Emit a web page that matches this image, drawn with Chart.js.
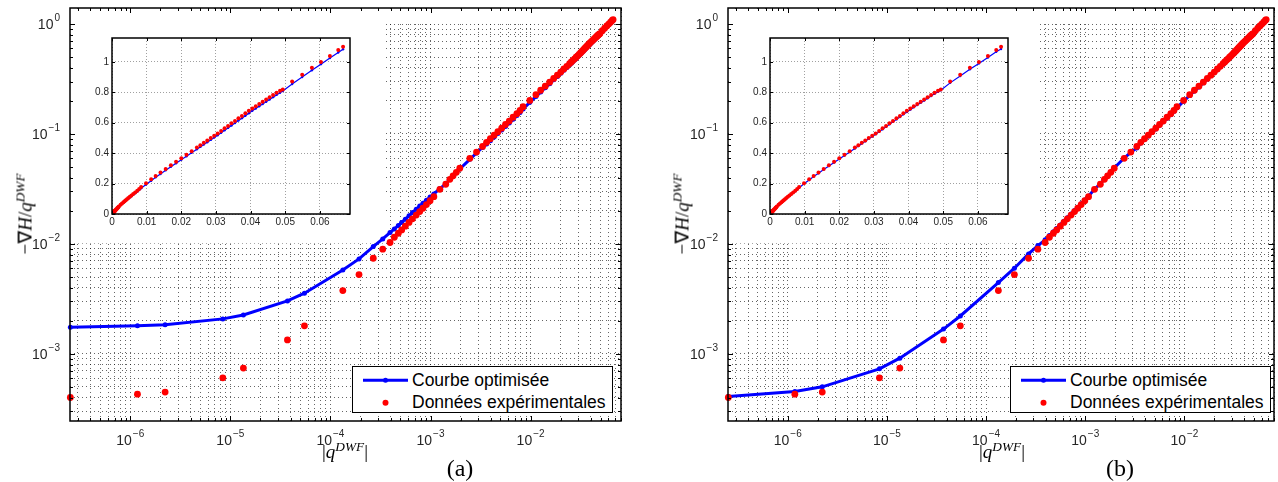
<!DOCTYPE html>
<html>
<head>
<meta charset="utf-8">
<script src="https://cdn.jsdelivr.net/npm/chart.js@4/dist/chart.umd.min.js"></script>
<style>
  html, body { margin: 0; padding: 0; background: #fff; }
  body { width: 1278px; height: 482px; position: relative; overflow: hidden; font-family: "Liberation Sans", Arial, sans-serif; }
  canvas { position: absolute; }
  .ylab, .xlab, .cap { position: absolute; white-space: nowrap; font-family: "Liberation Serif", "Times New Roman", serif; color: #000; }
  .ylab { font-size: 19px; transform: translate(-50%, -50%) rotate(-90deg); }
  .xlab { font-size: 19px; transform: translate(-50%, -50%); }
  .cap { font-size: 24px; transform: translate(-50%, -50%); }
  sup { font-size: 0.7em; vertical-align: 0.5em; line-height: 0; }
  .legend { position: absolute; width: 259px; height: 45px; border: 1px solid #000; background: #fff; }
  .legend svg { position: absolute; left: 0; top: 0; }
  .legend .lt { position: absolute; left: 59px; font-size: 17.5px; line-height: 20px; color: #000; }
</style>
</head>
<body>
<canvas id="mainA" width="640" height="445" style="left:0;top:0"></canvas>
<canvas id="mainB" width="638" height="445" style="left:640px;top:0"></canvas>
<canvas id="insetA" width="270" height="201" style="left:86px;top:29px"></canvas>
<canvas id="insetB" width="270" height="201" style="left:744px;top:29px"></canvas>

<div class="ylab" style="left:25px;top:214px">&minus;&nabla;<i>H</i>/<i>q</i><sup><i>DWF</i></sup></div>
<div class="ylab" style="left:682px;top:214px">&minus;&nabla;<i>H</i>/<i>q</i><sup><i>DWF</i></sup></div>
<div class="xlab" style="left:345px;top:452px">|<i>q</i><sup><i>DWF</i></sup>|</div>
<div class="xlab" style="left:1002px;top:452px">|<i>q</i><sup><i>DWF</i></sup>|</div>
<div class="cap" style="left:460px;top:468px">(a)</div>
<div class="cap" style="left:1120px;top:468px">(b)</div>

<div class="legend" style="left:352px;top:366px">
  <svg width="58" height="45"><line x1="10" y1="13.3" x2="55" y2="13.3" stroke="#0000ff" stroke-width="3"/><circle cx="32.5" cy="13.3" r="2.5" fill="#0000ff"/><circle cx="32.5" cy="35.7" r="3" fill="#ff0000"/></svg>
  <div class="lt" style="top:3px">Courbe optimisée</div>
  <div class="lt" style="top:25px">Données expérimentales</div>
</div>
<div class="legend" style="left:1010px;top:366px">
  <svg width="58" height="45"><line x1="10" y1="13.3" x2="55" y2="13.3" stroke="#0000ff" stroke-width="3"/><circle cx="32.5" cy="13.3" r="2.5" fill="#0000ff"/><circle cx="32.5" cy="35.7" r="3" fill="#ff0000"/></svg>
  <div class="lt" style="top:3px">Courbe optimisée</div>
  <div class="lt" style="top:25px">Données expérimentales</div>
</div>

<script>
// --- Data ---

// |q^DWF| of each measured point (shared by both panels and insets)
const expX = [
  2.52e-7, 1.18e-6, 2.23e-6, 8.41e-6, 1.35e-5, 3.72e-5, 5.50e-5, 1.33e-4, 1.93e-4, 2.68e-4,
  3.33e-4, 3.94e-4, 4.35e-4, 4.77e-4, 5.15e-4, 5.6e-4, 6.1e-4, 6.6e-4, 7.2e-4, 7.8e-4,
  8.4e-4, 9.1e-4, 9.9e-4, 1.08e-3, 1.24e-3, 1.42e-3, 1.56e-3, 1.68e-3, 1.81e-3, 1.96e-3,
  2.47e-3, 2.88e-3, 3.31e-3, 3.63e-3, 3.96e-3, 4.32e-3, 4.71e-3, 5.14e-3, 5.61e-3, 6.12e-3,
  6.68e-3, 7.29e-3, 7.84e-3, 8.41e-3, 9.82e-3, 0.0113, 0.0126, 0.0140, 0.0155, 0.0170,
  0.0185, 0.0200, 0.0215, 0.0230, 0.0245, 0.0255, 0.0265, 0.0275, 0.0285, 0.0295,
  0.0305, 0.0315, 0.0325, 0.0335, 0.0345, 0.0355, 0.0365, 0.0375, 0.0385, 0.0395,
  0.0405, 0.0415, 0.0425, 0.0435, 0.0445, 0.0455, 0.0465, 0.0475, 0.0485, 0.0493,
  0.0520, 0.0549, 0.0577, 0.0603, 0.0629, 0.0653, 0.0667
];

// Données expérimentales (-grad H / q^DWF)
const expY = [
  4.01e-4, 4.30e-4, 4.49e-4, 6.05e-4, 7.42e-4, 1.34e-3, 1.80e-3, 3.76e-3, 5.26e-3, 7.41e-3,
  8.95e-3, 1.03e-2, 1.15e-2, 1.25e-2, 1.34e-2, 1.45e-2, 1.57e-2, 1.69e-2, 1.83e-2, 1.97e-2,
  2.11e-2, 2.28e-2, 2.47e-2, 2.69e-2, 3.14e-2, 3.49e-2, 3.87e-2, 4.16e-2, 4.48e-2, 4.88e-2,
  6.01e-2, 6.85e-2, 7.70e-2, 8.40e-2, 9.05e-2, 9.75e-2, 0.105, 0.113, 0.122, 0.131,
  0.142, 0.153, 0.164, 0.177, 0.202, 0.228, 0.250, 0.272, 0.296, 0.320,
  0.343, 0.366, 0.390, 0.413, 0.437, 0.452, 0.468, 0.483, 0.499, 0.514,
  0.530, 0.546, 0.563, 0.579, 0.596, 0.612, 0.629, 0.645, 0.662, 0.678,
  0.693, 0.708, 0.723, 0.738, 0.753, 0.768, 0.783, 0.797, 0.811, 0.819,
  0.871, 0.916, 0.961, 1.000, 1.039, 1.078, 1.099
];

// Courbe optimisée, panel (a)
const fitYA = [
  1.75e-3, 1.80e-3, 1.84e-3, 2.08e-3, 2.26e-3, 3.03e-3, 3.56e-3, 5.80e-3, 7.31e-3, 9.45e-3,
  1.11e-2, 1.27e-2, 1.37e-2, 1.47e-2, 1.57e-2, 1.68e-2, 1.80e-2, 1.93e-2, 2.07e-2, 2.21e-2,
  2.34e-2, 2.50e-2, 2.67e-2, 2.85e-2, 3.19e-2, 3.52e-2, 3.87e-2, 4.14e-2, 4.44e-2, 4.80e-2,
  5.88e-2, 6.72e-2, 7.55e-2, 8.10e-2, 8.70e-2, 9.40e-2, 0.101, 0.109, 0.117, 0.126,
  0.136, 0.147, 0.157, 0.169, 0.194, 0.219, 0.241, 0.263, 0.287, 0.311,
  0.334, 0.357, 0.380, 0.403, 0.426, 0.441, 0.457, 0.472, 0.487, 0.503,
  0.518, 0.534, 0.550, 0.566, 0.582, 0.598, 0.614, 0.630, 0.646, 0.662,
  0.678, 0.693, 0.708, 0.723, 0.738, 0.753, 0.768, 0.783, 0.797, 0.808,
  0.855, 0.900, 0.945, 0.985, 1.025, 1.062, 1.083
];

// Courbe optimisée, panel (b)
const fitYB = [
  4.09e-4, 4.54e-4, 5.01e-4, 7.31e-4, 9.14e-4, 1.68e-3, 2.21e-3, 4.45e-3, 6.01e-3, 8.11e-3,
  9.66e-3, 1.09e-2, 1.19e-2, 1.29e-2, 1.38e-2, 1.49e-2, 1.61e-2, 1.73e-2, 1.87e-2, 2.01e-2,
  2.15e-2, 2.32e-2, 2.51e-2, 2.72e-2, 3.16e-2, 3.52e-2, 3.90e-2, 4.19e-2, 4.51e-2, 4.91e-2,
  6.05e-2, 6.81e-2, 7.46e-2, 8.30e-2, 8.90e-2, 9.60e-2, 0.103, 0.111, 0.120, 0.129,
  0.139, 0.150, 0.161, 0.173, 0.199, 0.224, 0.246, 0.268, 0.292, 0.316,
  0.339, 0.362, 0.385, 0.408, 0.431, 0.447, 0.463, 0.478, 0.494, 0.509,
  0.525, 0.541, 0.557, 0.573, 0.590, 0.606, 0.622, 0.638, 0.655, 0.671,
  0.686, 0.701, 0.716, 0.731, 0.746, 0.761, 0.776, 0.790, 0.804, 0.814,
  0.862, 0.907, 0.951, 0.990, 1.029, 1.066, 1.085
];

// --- Axes ---

const logXMin = 2.5e-7, logXMax = 0.08;
const logYMin = 2.45e-4, logYMax = 1.4;
const logXDecades = [1e-7, 1e-6, 1e-5, 1e-4, 1e-3, 1e-2];
const logYDecades = [1e-4, 1e-3, 1e-2, 1e-1, 1];
const logXLabelValues = [1e-6, 1e-5, 1e-4, 1e-3, 1e-2];
const logXExps = ['−6', '−5', '−4', '−3', '−2'];
const logYLabelValues = [1e-3, 1e-2, 1e-1, 1];
const logYExps = ['−3', '−2', '−1', '0'];
const decadeSteps = [1, 2, 3, 4, 5, 6, 7, 8, 9];

const insetXMin = 0, insetXMax = 0.0687;
const insetYMin = 0, insetYMax = 1.157;
const insetXTicks = [0, 0.01, 0.02, 0.03, 0.04, 0.05, 0.06];
const insetYTicks = [0, 0.2, 0.4, 0.6, 0.8, 1];

const FONT = '"Liberation Sans", Arial, sans-serif';
Chart.defaults.font.family = FONT;
Chart.defaults.color = '#262626';

// --- Helpers ---

function toPoints(xs, ys) {
    return xs.map((x, i) => ({ x: x, y: ys[i] }));
}

function gridTicks(decades, min, max) {
    const out = [];
    decades.forEach(d => decadeSteps.forEach(m => {
        const v = m * d;
        if (v >= min && v <= max) out.push({ value: v, major: m === 1 });
    }));
    return out;
}

// "10" with a raised exponent, like MATLAB's 10^{-n}
function drawPow(ctx, exp, x, baseline, align) {
    ctx.font = '14px ' + FONT;
    const wb = ctx.measureText('10').width;
    ctx.font = '10px ' + FONT;
    const we = ctx.measureText(exp).width;
    const total = wb + 1 + we;
    const left = align === 'center' ? x - total / 2 : x - total;
    ctx.textAlign = 'left';
    ctx.textBaseline = 'alphabetic';
    ctx.font = '14px ' + FONT;
    ctx.fillText('10', left, baseline);
    ctx.font = '10px ' + FONT;
    ctx.fillText(exp, left + wb + 1, baseline - 8);
}

const powLabels = {
    id: 'powLabels',
    afterDraw(chart) {
        const { ctx, chartArea: a, scales: { x, y } } = chart;
        ctx.save();
        ctx.fillStyle = '#262626';
        logXLabelValues.forEach((v, i) => drawPow(ctx, logXExps[i], x.getPixelForValue(v), a.bottom + 24, 'center'));
        logYLabelValues.forEach((v, i) => drawPow(ctx, logYExps[i], a.left - 10, y.getPixelForValue(v) + 5, 'right'));
        ctx.restore();
    }
};

// Box round the plot area with inward ticks on all four sides
const framePlugin = {
    id: 'frame',
    afterDraw(chart, args, opts) {
        const { ctx, chartArea: a, scales } = chart;
        ctx.save();
        ctx.strokeStyle = '#000';
        ctx.lineWidth = 1;
        ctx.beginPath();
        scales.x.ticks.forEach(t => {
            const len = t.major ? opts.major : opts.minor;
            const px = Math.round(scales.x.getPixelForValue(t.value)) + 0.5;
            ctx.moveTo(px, a.bottom); ctx.lineTo(px, a.bottom - len);
            ctx.moveTo(px, a.top); ctx.lineTo(px, a.top + len);
        });
        scales.y.ticks.forEach(t => {
            const len = t.major ? opts.major : opts.minor;
            const py = Math.round(scales.y.getPixelForValue(t.value)) + 0.5;
            ctx.moveTo(a.left, py); ctx.lineTo(a.left + len, py);
            ctx.moveTo(a.right, py); ctx.lineTo(a.right - len, py);
        });
        ctx.stroke();
        ctx.lineWidth = 1.5;
        ctx.strokeRect(a.left, a.top, a.right - a.left, a.bottom - a.top);
        ctx.restore();
    }
};

// The exported figure has no grid in the upper-left block and above 10^0
const maskPlugin = {
    id: 'mask',
    beforeDatasetsDraw(chart, args, opts) {
        const { ctx, chartArea: a, scales: { x, y } } = chart;
        const xEdge = x.getPixelForValue(opts.xEdge);
        const yEdge = y.getPixelForValue(opts.yEdge);
        const yTop = y.getPixelForValue(opts.yTop);
        ctx.save();
        ctx.fillStyle = '#fff';
        ctx.fillRect(a.left + 1, a.top + 1, xEdge - a.left - 1, yEdge - a.top - 1.5);
        ctx.fillRect(a.left + 1, a.top + 1, a.right - a.left - 2, yTop - a.top - 1.5);
        ctx.restore();
    }
};

const whiteBg = {
    id: 'whiteBg',
    beforeDraw(chart) {
        const ctx = chart.ctx;
        ctx.save();
        ctx.fillStyle = '#fff';
        ctx.fillRect(0, 0, chart.width, chart.height);
        ctx.restore();
    }
};

// --- Charts ---

function mainChart(id, fitY, yAxisW, padRight) {
    return new Chart(document.getElementById(id), {
        type: 'scatter',
        data: {
            datasets: [{
                label: 'Données expérimentales',
                data: toPoints(expX, expY),
                pointRadius: 3.4,
                pointBackgroundColor: '#ff0000',
                pointBorderWidth: 0,
                clip: false,
            }, {
                label: 'Courbe optimisée',
                data: toPoints(expX, fitY),
                showLine: true,
                borderColor: '#0000ff',
                borderWidth: 3,
                pointRadius: 2.5,
                pointBackgroundColor: '#0000ff',
                pointBorderWidth: 0,
                clip: false,
            }]
        },
        options: {
            responsive: false,
            animation: false,
            events: [],
            layout: { padding: { top: 8, right: padRight, left: 0, bottom: 0 } },
            plugins: {
                legend: { display: false },
                tooltip: { enabled: false },
                mask: { xEdge: 3.4e-4, yEdge: 1e-2, yTop: 1 },
                frame: { major: 5, minor: 3 },
            },
            scales: {
                x: {
                    type: 'logarithmic',
                    min: logXMin,
                    max: logXMax,
                    afterBuildTicks: s => { s.ticks = gridTicks(logXDecades, logXMin, logXMax); },
                    afterFit: s => { s.height = 24; },
                    grid: { color: 'rgba(0,0,0,0.6)', lineWidth: 1, drawTicks: false },
                    border: { display: false, dash: [1, 3] },
                    ticks: { display: false }
                },
                y: {
                    type: 'logarithmic',
                    min: logYMin,
                    max: logYMax,
                    afterBuildTicks: s => { s.ticks = gridTicks(logYDecades, logYMin, logYMax); },
                    afterFit: s => { s.width = yAxisW; },
                    grid: { color: 'rgba(0,0,0,0.6)', lineWidth: 1, drawTicks: false },
                    border: { display: false, dash: [1, 3] },
                    ticks: { display: false }
                }
            }
        },
        plugins: [maskPlugin, framePlugin, powLabels]
    });
}

function insetChart(id, fitY) {
    return new Chart(document.getElementById(id), {
        type: 'scatter',
        data: {
            datasets: [{
                data: toPoints(expX, expY),
                pointRadius: 2,
                pointBackgroundColor: '#ff0000',
                pointBorderWidth: 0,
            }, {
                data: toPoints(expX, fitY),
                showLine: true,
                borderColor: '#0000ff',
                borderWidth: 1.2,
                pointRadius: 1.2,
                pointBackgroundColor: '#0000ff',
                pointBorderWidth: 0,
            }]
        },
        options: {
            responsive: false,
            animation: false,
            events: [],
            layout: { padding: { top: 6, right: 6, left: 0, bottom: 0 } },
            plugins: {
                legend: { display: false },
                tooltip: { enabled: false },
                frame: { major: 3, minor: 3 },
            },
            scales: {
                x: {
                    type: 'linear',
                    min: insetXMin,
                    max: insetXMax,
                    afterBuildTicks: s => { s.ticks = insetXTicks.map(v => ({ value: v })); },
                    afterFit: s => { s.height = 16; },
                    grid: { color: '#a0a0a0', lineWidth: 1, drawTicks: false },
                    border: { display: false, dash: [1, 2] },
                    ticks: { autoSkip: false, maxRotation: 0, padding: 2, font: { size: 10 }, callback: v => String(v) }
                },
                y: {
                    type: 'linear',
                    min: insetYMin,
                    max: insetYMax,
                    afterBuildTicks: s => { s.ticks = insetYTicks.map(v => ({ value: v })); },
                    afterFit: s => { s.width = 26; },
                    grid: { color: '#a0a0a0', lineWidth: 1, drawTicks: false },
                    border: { display: false, dash: [1, 2] },
                    ticks: { autoSkip: false, padding: 3, font: { size: 10 }, callback: v => String(v) }
                }
            }
        },
        plugins: [whiteBg, framePlugin]
    });
}

mainChart('mainA', fitYA, 70, 19);
mainChart('mainB', fitYB, 88, 2);
insetChart('insetA', fitYA);
insetChart('insetB', fitYB);
</script>
</body>
</html>
